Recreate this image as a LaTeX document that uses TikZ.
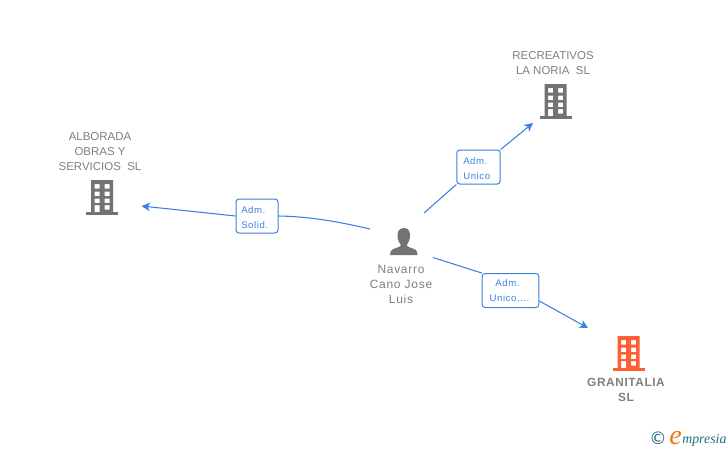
\documentclass[tikz,border=0pt]{standalone}
\usepackage{fontspec}
\setmainfont{Liberation Sans}
\newfontfamily\logoserif[Ligatures=TeX]{Liberation Serif}
\newfontfamily\logosym{DejaVu Sans}
\usetikzlibrary{arrows.meta}
\definecolor{linkblue}{HTML}{3B82DE}
\definecolor{txtgray}{HTML}{808080}
\definecolor{icongray}{HTML}{737373}
\definecolor{iconorange}{HTML}{FF5F33}
\definecolor{logoteal}{HTML}{1F6F80}
\definecolor{logoorange}{HTML}{F07A12}
\tikzset{
  x=0.75pt,y=-0.75pt,
  company/.style={text=txtgray,align=center,inner sep=0pt,font=\fontsize{8.6pt}{11.25pt}\selectfont},
  companybold/.style={text=txtgray,align=center,inner sep=0pt,font=\fontsize{8.9pt}{11.25pt}\selectfont\bfseries\addfontfeature{LetterSpace=5}},
  personname/.style={text=txtgray,align=center,inner sep=0pt,font=\fontsize{9pt}{11.25pt}\selectfont\addfontfeature{LetterSpace=6}},
  rolebox/.style={draw=linkblue,line width=0.75pt,rounded corners=2.2pt,fill=white,inner sep=0pt,minimum height=25.5pt},
  roletext/.style={text=linkblue,inner sep=0pt,font=\fontsize{7.2pt}{11pt}\selectfont\addfontfeature{LetterSpace=6}},
  link/.style={draw=linkblue,line width=0.8pt},
  linkarrow/.style={link,-{Stealth[length=6.5pt,width=6.5pt,inset=2pt]}},
  iconbox/.style={inner sep=0pt,minimum width=24pt,minimum height=26pt},
}
\newcommand{\bldg}[4]{%
  \node[iconbox] (#1) at (#2,#3+17) {};
  \fill[#4,even odd rule,shift={(#2,#3)}]
    (-11,0) rectangle (11,32)
    (-7.5,4) rectangle (-2.5,8.5) (2.5,4) rectangle (7.5,8.5)
    (-7.5,11.5) rectangle (-2.5,16) (2.5,11.5) rectangle (7.5,16)
    (-7.5,18.5) rectangle (-2.5,23) (2.5,18.5) rectangle (7.5,23)
    (-7.5,25) rectangle (-2.5,32) (2.5,25) rectangle (7.5,29.5);
  \fill[#4,shift={(#2,#3)}] (-16,32) rectangle (16,34.5);
}
\begin{document}
\begin{tikzpicture}
\useasboundingbox (0,0) rectangle (728,450);
\fill[white] (0,0) rectangle (728,450);

% company icons and labels
\bldg{alborada}{102}{180}{icongray}
\bldg{noria}{555.5}{84}{icongray}
\bldg{granitalia}{628.5}{336}{iconorange}
\node[company] (alboradatext) at (100,152) {ALBORADA\\OBRAS Y\\SERVICIOS\ \ SL};
\node[company] (noriatext) at (553,63) {RECREATIVOS\\LA NORIA\ \ SL};
\node[companybold] (granitaliatext) at (626,389.5) {GRANITALIA\\SL};

% person
\node[iconbox,minimum width=21pt,minimum height=21pt] (person) at (404,241.5) {};
\fill[icongray] (404,228) .. controls (398.5,228) and (397.5,232) .. (397.5,236)
  .. controls (397.5,240) and (399.5,243) .. (400.5,244.5) -- (400.5,246)
  .. controls (397,248.5) and (391,248.5) .. (390.5,252) -- (390,255) -- (417.5,255) -- (417,252)
  .. controls (416.5,248.5) and (410.5,248.5) .. (407,246) -- (407,244.5)
  .. controls (408,243) and (410,240) .. (410,236)
  .. controls (410,232) and (409,228) .. (404,228) -- cycle;
\node[personname] (persontext) at (401,284) {Navarro\\Cano Jose\\Luis};

% role boxes
\node[rolebox,minimum width=31.5pt] (roleA) at (257,216) {};
\node[rolebox,minimum width=32.5pt] (roleB) at (478.5,167) {};
\node[rolebox,minimum width=42.5pt] (roleC) at (510.5,290.5) {};
\node[roletext,anchor=base west] (roleAa) at (241,213) {Adm.};
\node[roletext,anchor=base west] (roleAb) at (241,228) {Solid.};
\node[roletext,anchor=base west] (roleBa) at (463,164) {Adm.};
\node[roletext,anchor=base west] (roleBb) at (463,179.5) {Unico};
\node[roletext] (roleCa) at (507.5,283.5) {Adm.};
\node[roletext] (roleCb) at (509.5,298.5) {Unico,...};

% connector ends
\coordinate (startA) at (370,229);
\coordinate (startB) at (424,213);
\coordinate (startC) at (433,257.5);
\coordinate (tipA) at (141.5,206);
\coordinate (tipB) at (533,123);
\coordinate (tipC) at (588,328);

% connectors
\draw[link] (startA) .. controls (340,222) and (310,216.5) .. (roleA.east);
\draw[linkarrow] (roleA.west) -- (tipA);
\draw[link] (startB) -- (roleB.south west);
\draw[linkarrow] (roleB.north east) -- (tipB);
\draw[link] (startC) -- (roleC.north west);
\draw[linkarrow] (roleC.-20) -- (tipC);

% logo
\node[inner sep=0pt,text=logoteal,font=\logosym\fontsize{13pt}{14pt}\selectfont] (logoc) at (658,438.5) {©};
\node[inner sep=0pt,anchor=base west,text=logoorange,font=\logoserif\itshape\fontsize{21pt}{22pt}\selectfont] (logoe) at (669,444) {e};
\node[inner sep=0pt,anchor=base west,text=logoteal,font=\logoserif\itshape\fontsize{10.4pt}{11pt}\selectfont] (logow) at (682,443) {mpresia};
\end{tikzpicture}
\end{document}
